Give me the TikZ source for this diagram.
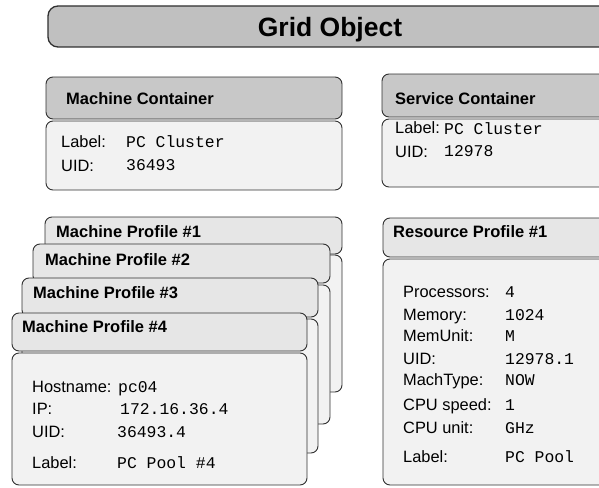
\documentclass[tikz,border=0pt]{standalone}
\usepackage{fontspec}
\setmainfont{Liberation Sans}
\setmonofont{Liberation Mono}
\definecolor{gridgray}{HTML}{C0C0C0}
\definecolor{headgray}{HTML}{C8C8C8}
\definecolor{profgray}{HTML}{E6E6E6}
\definecolor{bodygray}{HTML}{F2F2F2}
\definecolor{edgegray}{HTML}{303030}
\tikzset{
  panel/.style={draw=edgegray, line width=0.9pt, rounded corners=7pt,
    anchor=north west, inner sep=0pt, outer sep=0pt},
  conthead/.style={panel, fill=headgray},
  profhead/.style={panel, fill=profgray},
  bodybox/.style={panel, fill=bodygray},
  title/.style={font=\bfseries\fontsize{16.5}{18}\selectfont, anchor=base west, inner sep=0pt},
  key/.style={font=\fontsize{16.4}{18}\selectfont, anchor=base west, inner sep=0pt},
  val/.style={font=\ttfamily\fontsize{16.4}{18}\selectfont, anchor=base west, inner sep=0pt}
}
\begin{document}
\begin{tikzpicture}[x=1pt, y=-1pt]
  \useasboundingbox (0,0) rectangle (599,487);
  \clip (0,0) rectangle (599,487);

  % grid object banner
  \node[panel, fill=gridgray, line width=1.3pt, rounded corners=10pt,
        minimum width=620pt, minimum height=41pt] (grid) at (48,6) {};
  \node[font=\bfseries\fontsize{26.5}{28}\selectfont, anchor=base, inner sep=0pt]
        (gridtitle) at (330,37) {Grid Object};

  % machine container
  \node[conthead, minimum width=296pt, minimum height=42pt] (mchead) at (46,77) {};
  \node[bodybox, minimum width=296pt, minimum height=69pt] (mcbody) at (46,121) {};
  \node[title] (mctitle) at (66,104) {Machine Container};
  \node[key] (mclabel) at (61,147) {Label:};
  \node[val] (mclabelv) at (126,147) {PC Cluster};
  \node[key] (mcuid) at (61,171) {UID:};
  \node[val] (mcuidv) at (126,170) {36493};

  % service container
  \node[conthead, minimum width=260pt, minimum height=43pt] (schead) at (382,74) {};
  \node[bodybox, minimum width=260pt, minimum height=68pt] (scbody) at (382,119) {};
  \node[title] (sctitle) at (395,104) {Service Container};
  \node[key] (sclabel) at (395,133) {Label:};
  \node[val] (sclabelv) at (444,134) {PC Cluster};
  \node[key] (scuid) at (395,157) {UID:};
  \node[val] (scuidv) at (444,156) {12978};

  % stacked machine profiles
  \node[bodybox, minimum width=297pt, minimum height=137pt] (mp1body) at (45,255) {};
  \node[profhead, minimum width=297pt, minimum height=37pt] (mp1head) at (45,217) {};
  \node[title] (mp1title) at (56,237) {Machine Profile \#1};

  \node[bodybox, minimum width=297pt, minimum height=139pt] (mp2body) at (33,285) {};
  \node[profhead, minimum width=297pt, minimum height=39pt] (mp2head) at (33,244) {};
  \node[title] (mp2title) at (45,265) {Machine Profile \#2};

  \node[bodybox, minimum width=296pt, minimum height=134pt] (mp3body) at (22,319) {};
  \node[profhead, minimum width=296pt, minimum height=39pt] (mp3head) at (22,278) {};
  \node[title] (mp3title) at (33,298) {Machine Profile \#3};

  \node[bodybox, minimum width=295pt, minimum height=132pt] (mp4body) at (12,353) {};
  \node[profhead, minimum width=295pt, minimum height=38pt] (mp4head) at (12,313) {};
  \node[title] (mp4title) at (22,332) {Machine Profile \#4};
  \node[key] (mphost) at (32,392) {Hostname:};
  \node[val] (mphostv) at (118,392) {pc04};
  \node[key] (mpip) at (32,414) {IP:};
  \node[val] (mpipv) at (120,414) {172.16.36.4};
  \node[key] (mpuid) at (32,437) {UID:};
  \node[val] (mpuidv) at (117,437) {36493.4};
  \node[key] (mplabel) at (32,468) {Label:};
  \node[val] (mplabelv) at (117,468) {PC Pool \#4};

  % resource profile
  \node[profhead, minimum width=260pt, minimum height=39pt] (rphead) at (383,218) {};
  \node[bodybox, minimum width=260pt, minimum height=226pt] (rpbody) at (383,259) {};
  \node[title] (rptitle) at (393,237) {Resource Profile \#1};
  \foreach \k/\v/\y [count=\i] in {Processors:/4/297, Memory:/1024/320,
      MemUnit:/M/341, UID:/12978.1/364, MachType:/NOW/385,
      CPU speed:/1/410, CPU unit:/GHz/433, Label:/PC Pool/462}{
    \node[key] (rpkey\i) at (403,\y) {\k};
    \node[val] (rpval\i) at (505,\y) {\v};
  }
\end{tikzpicture}
\end{document}
